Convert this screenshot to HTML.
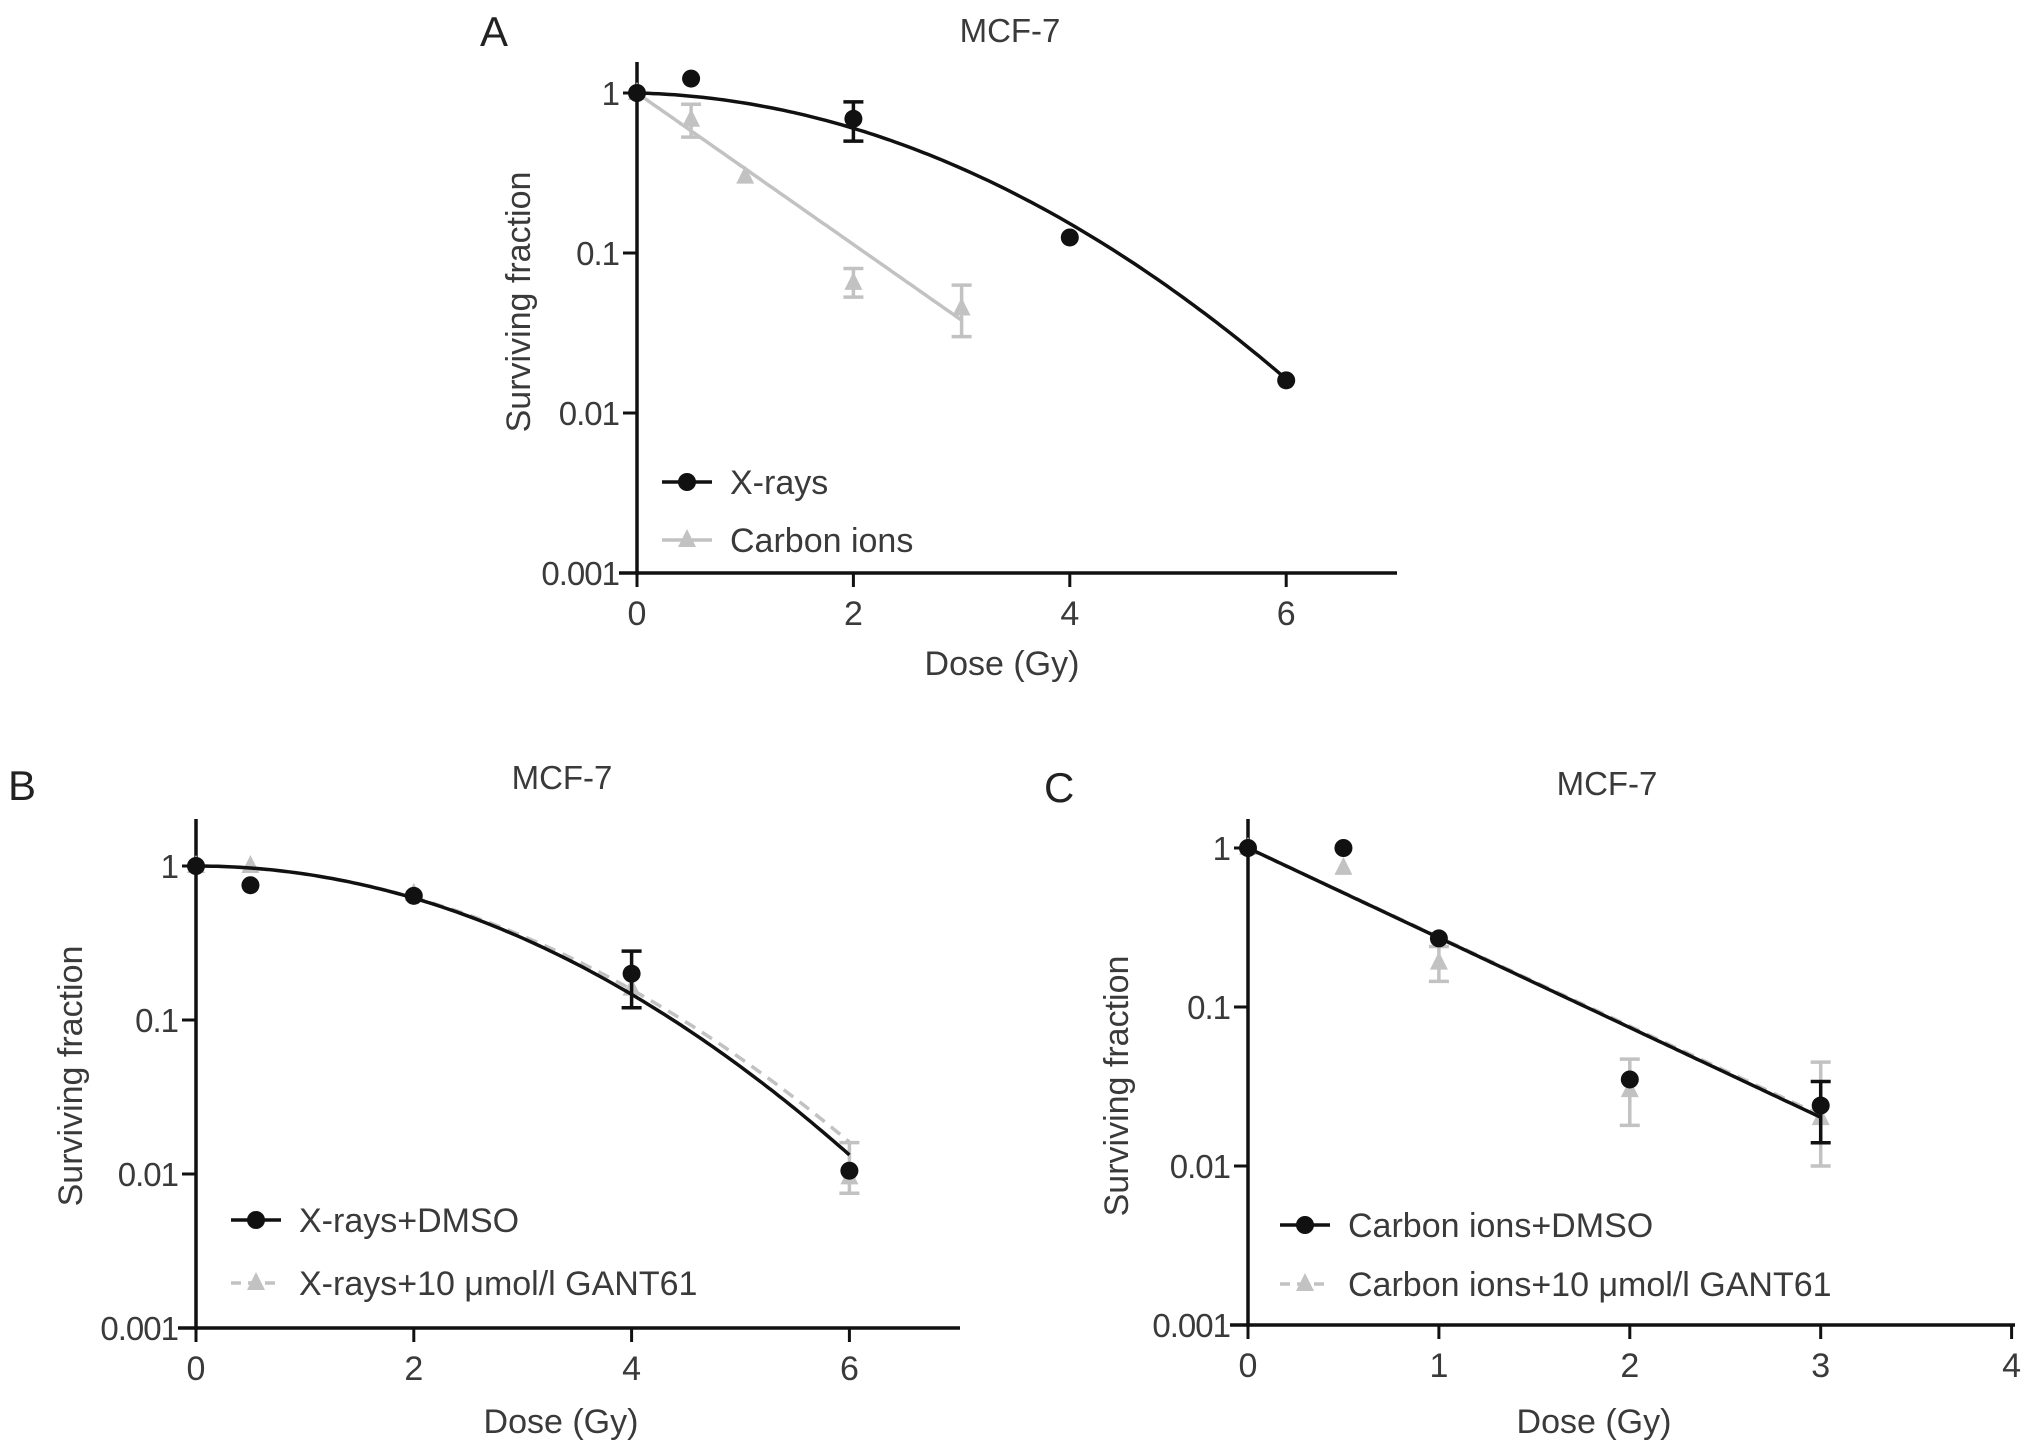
<!DOCTYPE html>
<html><head><meta charset="utf-8">
<style>
html,body{margin:0;padding:0;background:#fff;}
svg{display:block;font-family:"Liberation Sans",Arial,sans-serif;}
</style></head>
<body>
<svg id="fig" width="2032" height="1453" viewBox="0 0 2032 1453" xmlns="http://www.w3.org/2000/svg"></svg>
<script>
// ---- Panel A data ----
const aXrayDose = [0, 0.5, 2, 4, 6];
const aXraySF = [1, 1.23, 0.69, 0.125, 0.016];
const aXrayHi = [null, null, 0.88, null, null];
const aXrayLo = [null, null, 0.5, null, null];
const aXrayFit = [0.038, 0.108]; // alpha, beta
const aCarbDose = [0, 0.5, 1, 2, 3];
const aCarbSF = [1, 0.68, 0.3, 0.065, 0.045];
const aCarbHi = [null, 0.85, null, 0.08, 0.063];
const aCarbLo = [null, 0.53, null, 0.053, 0.03];
const aCarbFit = [1.09, 0];
const aXTicks = [0, 2, 4, 6];
// ---- Panel B data ----
const bDmsoDose = [0, 0.5, 2, 4, 6];
const bDmsoSF = [1, 0.75, 0.64, 0.2, 0.0105];
const bDmsoHi = [null, null, null, 0.28, null];
const bDmsoLo = [null, null, null, 0.12, null];
const bDmsoFit = [0.0, 0.12];
const bGantDose = [0, 0.5, 2, 4, 6];
const bGantSF = [1, 1.0, 0.66, 0.16, 0.0095];
const bGantHi = [null, null, null, null, 0.016];
const bGantLo = [null, null, null, null, 0.0075];
const bGantFit = [0.01, 0.113];
const bXTicks = [0, 2, 4, 6];
// ---- Panel C data ----
const cDmsoDose = [0, 0.5, 1, 2, 3];
const cDmsoSF = [1, 1.0, 0.27, 0.035, 0.024];
const cDmsoHi = [null, null, null, null, 0.034];
const cDmsoLo = [null, null, null, null, 0.014];
const cDmsoFit = [1.30, 0];
const cGantDose = [0, 0.5, 1, 2, 3];
const cGantSF = [1, 0.75, 0.19, 0.03, 0.02];
const cGantHi = [null, null, 0.24, 0.047, 0.045];
const cGantLo = [null, null, 0.145, 0.018, 0.01];
const cGantFit = [1.29, 0];
const cXTicks = [0, 1, 2, 3, 4];
const yTicks = [1, 0.1, 0.01, 0.001];
const yTickLabels = ["1", "0.1", "0.01", "0.001"];

const NS = "http://www.w3.org/2000/svg";
const svg = document.getElementById("fig");
function mk(tag, attrs, parent) {
  const e = document.createElementNS(NS, tag);
  for (const k in attrs) e.setAttribute(k, attrs[k]);
  (parent || svg).appendChild(e);
  return e;
}
const BLK = "#111", GRY = "#c2c2c2", TXT = "#3a3a3a";

function panel(p) {
  const g = mk("g", {});
  
  
  const X = d => p.x0 + d * p.xs;
  const Y = v => p.y1 - Math.log10(v) * p.dec;
  const yBot = Y(0.001);
  const ya = mk("line", {x1: p.x0, y1: p.yTop, x2: p.x0, y2: yBot + 2, stroke: BLK, "stroke-width": 3.5}, g);
  
  
  const xa = mk("line", {x1: p.x0 - 18, y1: yBot, x2: p.xEnd, y2: yBot, stroke: BLK, "stroke-width": 3.5}, g);
  
  
  yTicks.forEach((v, i) => {
    mk("line", {x1: p.x0 - 14, y1: Y(v), x2: p.x0, y2: Y(v), stroke: BLK, "stroke-width": 3}, g);
    const t = mk("text", {x: p.x0 - 18, y: Y(v) + 12, "text-anchor": "end", "font-size": 33, fill: TXT, "letter-spacing": "-1"}, g);
    t.textContent = yTickLabels[i];
    
    
  });
  p.xt.forEach(d => {
    mk("line", {x1: X(d), y1: yBot, x2: X(d), y2: yBot + 14, stroke: BLK, "stroke-width": 3}, g);
    const t = mk("text", {x: X(d), y: yBot + 52, "text-anchor": "middle", "font-size": 34, fill: TXT}, g);
    t.textContent = String(d);
    
    
  });
  let t = mk("text", {x: p.titleX, y: p.titleY, "text-anchor": "middle", "font-size": 33, fill: TXT}, g);
  t.textContent = "MCF-7";
  
  
  t = mk("text", {x: p.letX, y: p.letY, "font-size": 42, fill: "#222"}, g);
  t.textContent = p.letter;
  
  
  t = mk("text", {x: 0, y: 0, "text-anchor": "middle", "font-size": 34, fill: TXT, transform: `translate(${p.ylX},${p.ylY}) rotate(-90)`}, g);
  t.textContent = "Surviving fraction";
  
  
  t = mk("text", {x: p.xlX, y: p.xlY, "text-anchor": "middle", "font-size": 34, fill: TXT}, g);
  t.textContent = "Dose (Gy)";
  
  
  p.series.slice().reverse().forEach(s => {
    const maxD = s.dose[s.dose.length - 1];
    let d = "";
    for (let i = 0; i <= 120; i++) {
      const dd = maxD * i / 120;
      const v = Math.exp(-s.fit[0] * dd - s.fit[1] * dd * dd);
      d += (i ? "L" : "M") + X(dd).toFixed(1) + " " + Y(v).toFixed(1);
    }
    const fl = mk("path", {d: d, fill: "none", stroke: s.color, "stroke-width": 3.5, "stroke-dasharray": s.dash ? "12 8" : "none"}, g);
    
    
    s.dose.forEach((dd, i) => {
      const x = X(dd);
      if (s.hi[i] != null) {
        const eb = mk("path", {d: `M${x} ${Y(s.hi[i])}L${x} ${Y(s.lo[i])}M${x-10} ${Y(s.hi[i])}L${x+10} ${Y(s.hi[i])}M${x-10} ${Y(s.lo[i])}L${x+10} ${Y(s.lo[i])}`, stroke: s.color, "stroke-width": 3.5, fill: "none"}, g);
        
        
      }
      const y = Y(s.sf[i]);
      let m;
      if (s.tri) m = mk("path", {d: `M${x} ${y-11}L${x+9} ${y+7}L${x-9} ${y+7}Z`, fill: s.color}, g);
      else m = mk("circle", {cx: x, cy: y, r: 9, fill: s.color}, g);
      
      
    });
  });
  p.series.forEach((s, i) => {
    const ly = p.legY + i * p.legGap;
    const lg = mk("g", {}, g);
    
    
    mk("line", {x1: p.legX, y1: ly, x2: p.legX + 50, y2: ly, stroke: s.color, "stroke-width": 3.5, "stroke-dasharray": s.dash ? "10 7" : "none"}, lg);
    const cx = p.legX + 25;
    if (s.tri) mk("path", {d: `M${cx} ${ly-11}L${cx+9} ${ly+7}L${cx-9} ${ly+7}Z`, fill: s.color}, lg);
    else mk("circle", {cx: cx, cy: ly, r: 9, fill: s.color}, lg);
    const lt = mk("text", {x: p.legX + 68, y: ly + 12, "font-size": 34, fill: TXT}, lg);
    lt.textContent = s.label;
  });
}

panel({id: "panel-a", letter: "A", x0: 637, xs: 108.2, y1: 93, dec: 160, yTop: 62, xEnd: 1397, xt: aXTicks,
  titleX: 1010, titleY: 42, letX: 480, letY: 46, ylX: 530, ylY: 302, xlX: 1002, xlY: 675,
  legX: 662, legY: 482, legGap: 58,
  series: [
    {name: "x-rays", label: "X-rays", dose: aXrayDose, sf: aXraySF, hi: aXrayHi, lo: aXrayLo, fit: aXrayFit, color: BLK, tri: false, dash: false},
    {name: "carbon-ions", label: "Carbon ions", dose: aCarbDose, sf: aCarbSF, hi: aCarbHi, lo: aCarbLo, fit: aCarbFit, color: GRY, tri: true, dash: false}
  ]});
panel({id: "panel-b", letter: "B", x0: 196, xs: 108.9, y1: 866, dec: 154, yTop: 819, xEnd: 960, xt: bXTicks,
  titleX: 562, titleY: 789, letX: 8, letY: 800, ylX: 82, ylY: 1076, xlX: 561, xlY: 1433,
  legX: 231, legY: 1220, legGap: 63,
  series: [
    {name: "x-rays-dmso", label: "X-rays+DMSO", dose: bDmsoDose, sf: bDmsoSF, hi: bDmsoHi, lo: bDmsoLo, fit: bDmsoFit, color: BLK, tri: false, dash: false},
    {name: "x-rays-gant61", label: "X-rays+10 \u03bcmol/l GANT61", dose: bGantDose, sf: bGantSF, hi: bGantHi, lo: bGantLo, fit: bGantFit, color: GRY, tri: true, dash: true}
  ]});
panel({id: "panel-c", letter: "C", x0: 1248, xs: 190.9, y1: 848, dec: 159, yTop: 819, xEnd: 2015, xt: cXTicks,
  titleX: 1607, titleY: 795, letX: 1044, letY: 802, ylX: 1128, ylY: 1086, xlX: 1594, xlY: 1433,
  legX: 1280, legY: 1225, legGap: 59,
  series: [
    {name: "carbon-dmso", label: "Carbon ions+DMSO", dose: cDmsoDose, sf: cDmsoSF, hi: cDmsoHi, lo: cDmsoLo, fit: cDmsoFit, color: BLK, tri: false, dash: false},
    {name: "carbon-gant61", label: "Carbon ions+10 \u03bcmol/l GANT61", dose: cGantDose, sf: cGantSF, hi: cGantHi, lo: cGantLo, fit: cGantFit, color: GRY, tri: true, dash: true}
  ]});
</script>
</body></html>
